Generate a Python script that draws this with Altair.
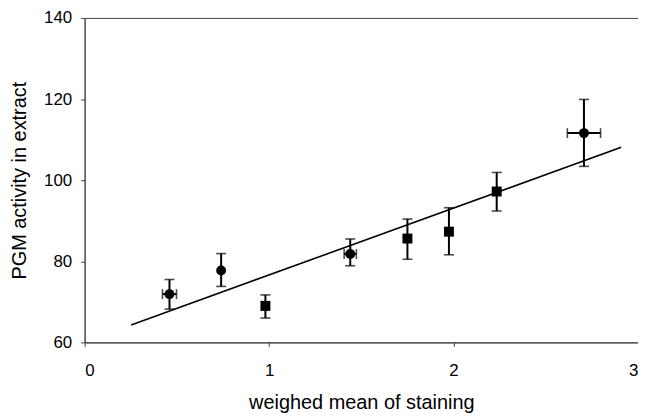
import altair as alt
import pandas as pd

# Data
x_vals = [0.46, 0.74, 0.98, 1.44, 1.75, 1.975, 2.234, 2.707]
y_vals = [71.9, 77.7, 69.0, 81.8, 85.6, 87.3, 97.2, 111.6]
y_low = [68.2, 73.8, 66.0, 78.9, 80.5, 81.6, 92.4, 103.4]
y_high = [75.5, 81.9, 71.7, 85.5, 90.4, 93.2, 101.9, 119.9]
x_err = [0.038, 0.0, 0.0, 0.033, 0.0, 0.0, 0.0, 0.09]
shapes = ["circle", "circle", "square", "circle", "square", "square", "square", "circle"]

line_x = [0.252, 2.909]
line_y = [64.3, 108.1]

df = pd.DataFrame({
    "x": x_vals, "y": y_vals, "ylo": y_low, "yhi": y_high,
    "xlo": [a - e for a, e in zip(x_vals, x_err)],
    "xhi": [a + e for a, e in zip(x_vals, x_err)],
    "shape": shapes,
    "has_xerr": [e > 0 for e in x_err],
})
df_line = pd.DataFrame({"x": line_x, "y": line_y})

xs = alt.Scale(domain=[0, 3], nice=False, zero=False)
ys = alt.Scale(domain=[60, 140], nice=False, zero=False)

FONT = "Liberation Sans"

x_axis = alt.Axis(values=[0, 1, 2, 3], title="weighed mean of staining", grid=False,
                  labelFontSize=17, titleFontSize=20, labelFont=FONT, titleFont=FONT,
                  labelColor="black", titleColor="black", titleFontWeight="normal",
                  domainColor="#444", tickColor="#444", tickSize=4, labelPadding=16,
                  titleY=60, titleBaseline="middle", format="d")
y_axis = alt.Axis(values=[60, 80, 100, 120, 140], title="PGM activity in extract", grid=False,
                  labelFontSize=17, titleFontSize=20, labelFont=FONT, titleFont=FONT,
                  labelColor="black", titleColor="black", titleFontWeight="normal",
                  domainColor="#444", tickColor="#444", tickSize=4, labelPadding=9,
                  titleX=-65, titleBaseline="middle", format="d")

base = alt.Chart(df)

line = alt.Chart(df_line).mark_line(color="black", strokeWidth=1.6).encode(
    x=alt.X("x:Q", scale=xs, axis=x_axis),
    y=alt.Y("y:Q", scale=ys, axis=y_axis),
)

ybars = base.mark_rule(color="black", strokeWidth=2).encode(
    x=alt.X("x:Q", scale=xs), y=alt.Y("ylo:Q", scale=ys), y2="yhi:Q")
ycap_lo = base.mark_tick(color="black", orient="horizontal", size=10, thickness=1.6).encode(
    x=alt.X("x:Q", scale=xs), y=alt.Y("ylo:Q", scale=ys))
ycap_hi = base.mark_tick(color="black", orient="horizontal", size=10, thickness=1.6).encode(
    x=alt.X("x:Q", scale=xs), y=alt.Y("yhi:Q", scale=ys))

xe = base.transform_filter("datum.has_xerr")
xbars = xe.mark_rule(color="black", strokeWidth=2).encode(
    x=alt.X("xlo:Q", scale=xs), x2="xhi:Q", y=alt.Y("y:Q", scale=ys))
xcap_lo = xe.mark_tick(color="black", orient="vertical", size=10, thickness=1.6).encode(
    x=alt.X("xlo:Q", scale=xs), y=alt.Y("y:Q", scale=ys))
xcap_hi = xe.mark_tick(color="black", orient="vertical", size=10, thickness=1.6).encode(
    x=alt.X("xhi:Q", scale=xs), y=alt.Y("y:Q", scale=ys))

points = base.mark_point(filled=True, color="black", opacity=1, size=100).encode(
    x=alt.X("x:Q", scale=xs), y=alt.Y("y:Q", scale=ys),
    shape=alt.Shape("shape:N", scale=alt.Scale(domain=["circle", "square"], range=["circle", "square"]),
                    legend=None),
)

chart = alt.layer(line, ybars, ycap_lo, ycap_hi, xbars, xcap_lo, xcap_hi, points).properties(
    width=556, height=326,
    autosize=alt.AutoSizeParams(type="none"),
    padding={"left": 77, "top": 9, "right": 0, "bottom": 74},
    background="white",
).configure_view(stroke="#444", strokeWidth=1)

chart.save("out.html", embed_options={"renderer": "svg", "actions": False})
